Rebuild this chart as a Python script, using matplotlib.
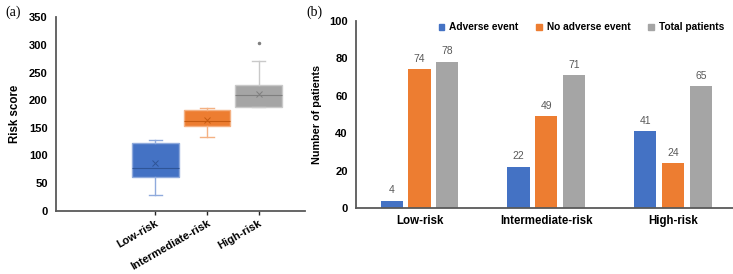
import matplotlib.pyplot as plt
from matplotlib.patches import Patch

# panel (a): box plot summary
groups = ["Low-risk", "Intermediate-risk", "High-risk"]
q1 = [61, 153, 187]
med = [78, 162, 209]
q3 = [122, 182, 227]
whislo = [28, 133, 187]
whishi = [128, 186, 271]
means = [87, 165, 212]
fliers = [[], [], [303]]

# panel (b): patient counts
adverse = [4, 22, 41]
no_adverse = [74, 49, 24]
total = [78, 71, 65]

fill = ["#4472C4", "#ED7D31", "#A5A5A5"]
edge = ["#8FAADC", "#F4B183", "#C9C9C9"]
dark = ["#2F5597", "#C55A11", "#7F7F7F"]
axcol = "#595959"

plt.rcParams['font.family'] = ['Liberation Sans', 'DejaVu Sans']

fig = plt.figure(figsize=(7.33, 2.74), dpi=100)

# ---- (a) ----
ax1 = fig.add_axes([0.0764, 0.231, 0.34, 0.706])
pos = [1, 2, 3]
for i in range(3):
    st = [dict(q1=q1[i], med=med[i], q3=q3[i], whislo=whislo[i], whishi=whishi[i],
               mean=means[i], fliers=fliers[i])]
    ax1.bxp(st, positions=[pos[i]], widths=0.9, capwidths=0.26, patch_artist=True,
            showmeans=True, showcaps=True,
            boxprops=dict(facecolor=fill[i], edgecolor=edge[i], linewidth=1),
            medianprops=dict(color=dark[i], linewidth=0.8),
            whiskerprops=dict(color=edge[i], linewidth=1),
            capprops=dict(color=edge[i], linewidth=1),
            meanprops=dict(marker="x", markeredgecolor=dark[i], markersize=4, markeredgewidth=0.7),
            flierprops=dict(marker="o", markersize=1.5, markerfacecolor=dark[i],
                            markeredgecolor=dark[i]))
ax1.set_xlim(-0.92, 3.9)
ax1.set_ylim(0, 350)
ax1.set_yticks(range(0, 351, 50))
ax1.set_xticks(pos)
ax1.set_xticklabels(groups, rotation=30, ha="right", rotation_mode="anchor",
                    fontsize=8, fontweight="bold")
for lab in ax1.get_yticklabels():
    lab.set_fontweight("bold")
    lab.set_fontsize(8)
ax1.tick_params(axis="y", length=0, pad=6)
ax1.tick_params(axis="x", length=3, width=1, color="#262626", pad=2.5, direction="out")
ax1.set_ylabel("Risk score", fontsize=8.3, fontweight="bold", labelpad=6)
for s in ["top", "right"]:
    ax1.spines[s].set_visible(False)
for s in ["left", "bottom"]:
    ax1.spines[s].set_color(axcol)
    ax1.spines[s].set_linewidth(1.3)
fig.text(0.007, 0.955, "(a)", fontsize=10, family="Liberation Serif", va="center")

# ---- (b) ----
ax2 = fig.add_axes([0.4857, 0.2398, 0.5143, 0.6847])
x = range(len(groups))
step = 0.22
bw = 0.174
series = [adverse, no_adverse, total]
names = ["Adverse event", "No adverse event", "Total patients"]
for k, vals in enumerate(series):
    xs = [xi + (k - 1) * step for xi in x]
    bars = ax2.bar(xs, vals, width=bw, color=fill[k])
    for b, v in zip(bars, vals):
        ax2.annotate(str(v), (b.get_x() + b.get_width() / 2, v), xytext=(0, 4),
                     textcoords="offset points", ha="center", va="bottom",
                     fontsize=7.5, color="#595959")
ax2.set_xlim(-0.5, 2.47)
ax2.set_ylim(0, 100)
ax2.set_yticks(range(0, 101, 20))
ax2.set_xticks(list(x))
ax2.set_xticklabels(groups, fontsize=8.3, fontweight="bold")
for lab in ax2.get_yticklabels():
    lab.set_fontweight("bold")
    lab.set_fontsize(8)
ax2.tick_params(axis="both", length=0, pad=6)
ax2.tick_params(axis="x", pad=5)
ax2.set_ylabel("Number of patients", fontsize=7.8, fontweight="bold", labelpad=5)
for s in ["top", "right"]:
    ax2.spines[s].set_visible(False)
for s in ["left", "bottom"]:
    ax2.spines[s].set_color(axcol)
    ax2.spines[s].set_linewidth(1.3)
handles = [Patch(color=c) for c in fill]
ax2.legend(handles, names, ncol=3, loc="upper right", bbox_to_anchor=(1.0, 1.04),
           frameon=False, prop=dict(size=7.3, weight="bold"), handlelength=0.5,
           handleheight=0.5, handletextpad=0.5, columnspacing=1.8)
fig.text(0.418, 0.955, "(b)", fontsize=10, family="Liberation Serif", va="center")

fig.savefig("out.png", dpi=100)
